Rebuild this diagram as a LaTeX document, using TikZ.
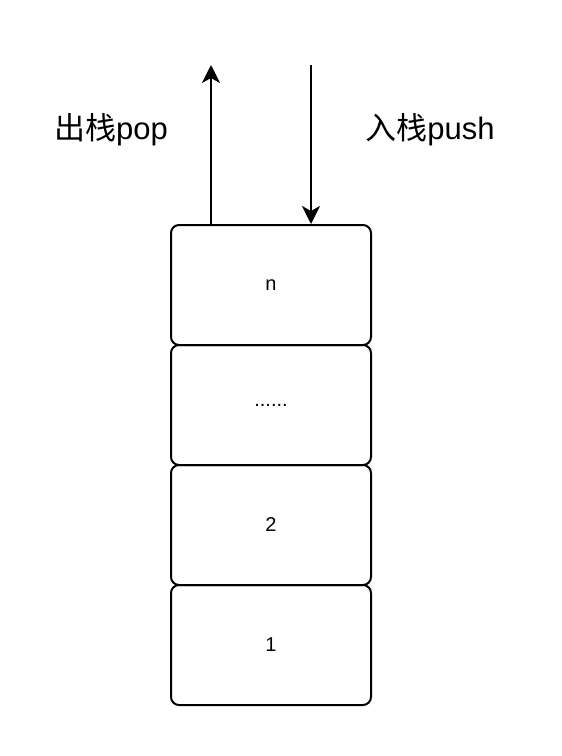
\documentclass[tikz,border=0pt]{standalone}
\usepackage{fontspec}
\setmainfont{Liberation Sans}
\newfontfamily\cjk{Noto Sans CJK SC}
\usetikzlibrary{arrows.meta}
\begin{document}
\begin{tikzpicture}[x=1pt, y=-1pt,
		cell/.style={draw, line width=2pt, rounded corners=8pt, minimum width=200pt, minimum height=120pt, inner sep=0, font=\fontsize{20}{24}\selectfont},
		op/.style={font=\fontsize{31}{36}\selectfont},
		flow/.style={-{Stealth[length=18pt, width=18pt, inset=5pt]}, line width=2pt}]
	\useasboundingbox (0,0) rectangle (562,756);
	\node (c4) [cell] at (271,285) {n};
	\node (c3) [cell] at (271,405) {......};
	\node (c2) [cell] at (271,525) {2};
	\node (c1) [cell] at (271,645) {1};
	\node (pop) [op] at (111,130) {{\cjk 出栈}pop};
	\node (push) [op] at (430,130) {{\cjk 入栈}push};
	\coordinate (popend) at (211,65);
	\coordinate (pushstart) at (311,65);
	\draw[flow] ([xshift=-60pt]c4.north) -- (popend);
	\draw[flow] (pushstart) -- ([xshift=40pt]c4.north);
\end{tikzpicture}
\end{document}
